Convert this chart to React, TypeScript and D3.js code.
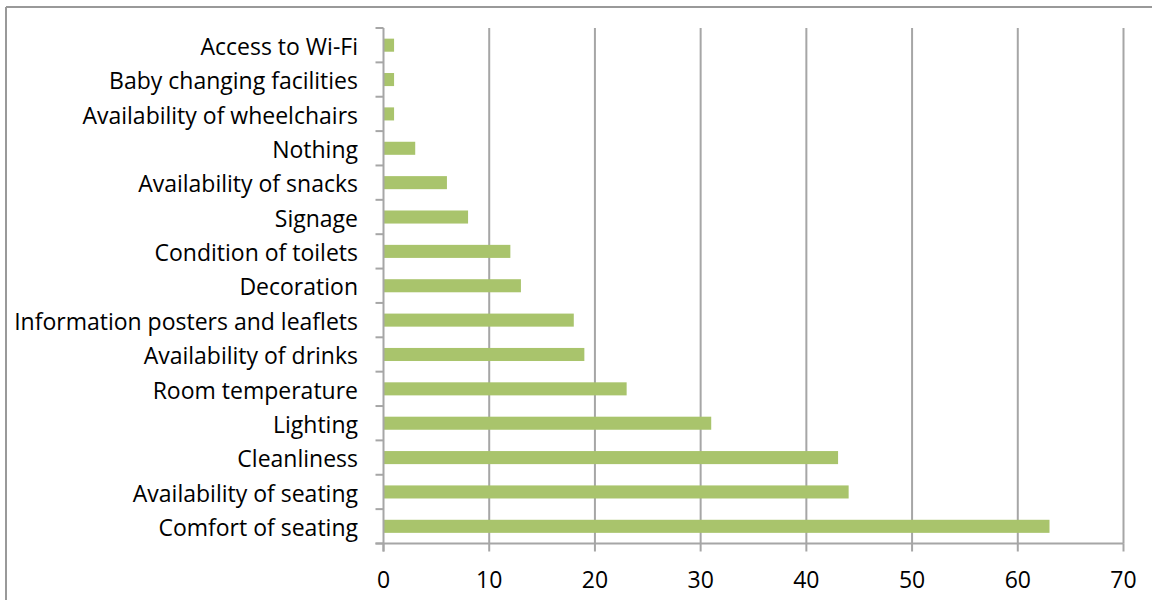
import React from "react";
import * as d3 from "d3";

const categories = [
  "Access to Wi-Fi",
  "Baby changing facilities",
  "Availability of wheelchairs",
  "Nothing",
  "Availability of snacks",
  "Signage",
  "Condition of toilets",
  "Decoration",
  "Information posters and leaflets",
  "Availability of drinks",
  "Room temperature",
  "Lighting",
  "Cleanliness",
  "Availability of seating",
  "Comfort of seating",
];
const values = [1, 1, 1, 3, 6, 8, 12, 13, 18, 19, 23, 31, 43, 44, 63];
const xTicks = [0, 10, 20, 30, 40, 50, 60, 70];

const W = 1152;
const H = 600;
const left = 383.5;
const right = 1123.5;
const top = 28;
const bottom = 543.5;
const font = "'Open Sans', sans-serif";
const gridColor = "#a6a6a6";
const barColor = "#a9c46c";

export default function App() {
  const x = d3.scaleLinear().domain([0, 70]).range([left, right]);
  const y = d3.scaleBand<string>().domain(categories).range([top, bottom]).paddingInner(0.62).paddingOuter(0.31);
  const band = (bottom - top) / categories.length;
  const boundaries = d3.range(categories.length + 1).map((i) => top + i * band);

  return (
    <svg width={W} height={H} style={{ position: "absolute", left: 0, top: 0, background: "#fff" }}>
      <rect x={0} y={0} width={W} height={H} fill="#fff" />
      {/* outer border */}
      <line x1={6} y1={7} x2={W} y2={7} stroke="#999" strokeWidth={2} />
      <line x1={6} y1={7} x2={6} y2={H} stroke="#999" strokeWidth={2} />
      {/* gridlines */}
      {xTicks.slice(1).map((t) => (
        <line key={"g" + t} x1={x(t)} x2={x(t)} y1={top} y2={bottom} stroke={gridColor} strokeWidth={2} />
      ))}
      {/* bars */}
      {categories.map((c, i) => (
        <rect key={c} x={x(0)} y={y(c)} width={x(values[i]) - x(0)} height={y.bandwidth()} fill={barColor} />
      ))}
      {/* y axis */}
      <line x1={left} x2={left} y1={top} y2={bottom + 8} stroke={gridColor} strokeWidth={2} />
      {boundaries.map((b, i) => (
        <line key={"yt" + i} x1={left - 8} x2={left} y1={b} y2={b} stroke={gridColor} strokeWidth={2} />
      ))}
      {/* x axis */}
      <line x1={left - 8} x2={right} y1={bottom} y2={bottom} stroke={gridColor} strokeWidth={2} />
      {xTicks.map((t) => (
        <line key={"xt" + t} x1={x(t)} x2={x(t)} y1={bottom} y2={bottom + 8} stroke={gridColor} strokeWidth={2} />
      ))}
      {xTicks.map((t) => (
        <text key={"xl" + t} x={x(t)} y={588} textAnchor="middle" fontFamily={font} fontSize={23} fill="#000">
          {t}
        </text>
      ))}
      {categories.map((c) => (
        <text
          key={"yl" + c}
          x={358}
          y={(y(c) as number) + y.bandwidth() / 2}
          dy="0.42em"
          textAnchor="end"
          fontFamily={font}
          fontSize={23}
          fill="#000"
        >
          {c}
        </text>
      ))}
    </svg>
  );
}
